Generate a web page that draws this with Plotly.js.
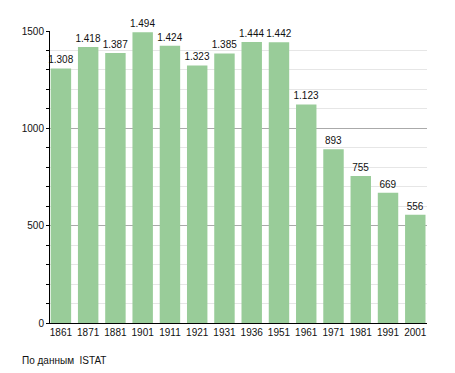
<!DOCTYPE html>
<html>
<head>
<meta charset="utf-8">
<script src="https://cdn.plot.ly/plotly-3.0.1.min.js"></script>
<style>html,body{margin:0;padding:0;background:#fff;}#chart{width:455px;height:373px;}</style>
</head>
<body>
<div id="chart"></div>
<script>
const years = ['1861','1871','1881','1901','1911','1921','1931','1936','1951','1961','1971','1981','1991','2001'];
const population = [1308,1418,1387,1494,1424,1323,1385,1444,1442,1123,893,755,669,556];
const yTicks = [0,500,1000,1500];
const source = 'По данным  ISTAT';

function fmt(v){ return String(v).replace(/\B(?=(\d{3})+(?!\d))/g,'.'); }

const font = {family:'Liberation Sans, Arial, sans-serif', size:10, color:'#111'};

Plotly.newPlot('chart', [{
  type:'bar',
  x: years.map((y,i)=>i),
  y: population,
  text: population.map(fmt),
  textposition:'outside',
  constraintext:'none',
  textangle:0,
  textfont: font,
  cliponaxis:false,
  marker:{color:'#99cc99', line:{width:0}},
  hoverinfo:'none'
}], {
  width:455, height:373,
  margin:{l:50, r:28, t:31, b:50},
  paper_bgcolor:'#fff', plot_bgcolor:'#fff',
  bargap:0.25,
  showlegend:false,
  font: font,
  xaxis:{
    type:'linear',
    range:[-0.4,13.43],
    tickmode:'array',
    tickvals: years.map((y,i)=>i),
    ticktext: years,
    showgrid:false,
    zeroline:false,
    showline:true, linecolor:'#000', linewidth:1,
    ticks:'', tickfont:font
  },
  yaxis:{
    range:[0,1500],
    tickmode:'array',
    tickvals: yTicks,
    showgrid:true, gridcolor:'#aaaaaa', gridwidth:1,
    zeroline:false,
    showline:true, linecolor:'#000', linewidth:1,
    ticks:'outside', ticklen:3, tickcolor:'#000',
    tickfont:font,
    minor:{dtick:100, showgrid:true, gridcolor:'#e6e6e6', ticks:'outside', ticklen:3, tickcolor:'#000'}
  },
  annotations:[{
    text: source, xref:'paper', yref:'paper',
    x:-0.08, y:-0.13, xanchor:'left', yanchor:'middle',
    showarrow:false, font:font
  }]
}, {displayModeBar:false, staticPlot:true});
</script>
</body>
</html>
